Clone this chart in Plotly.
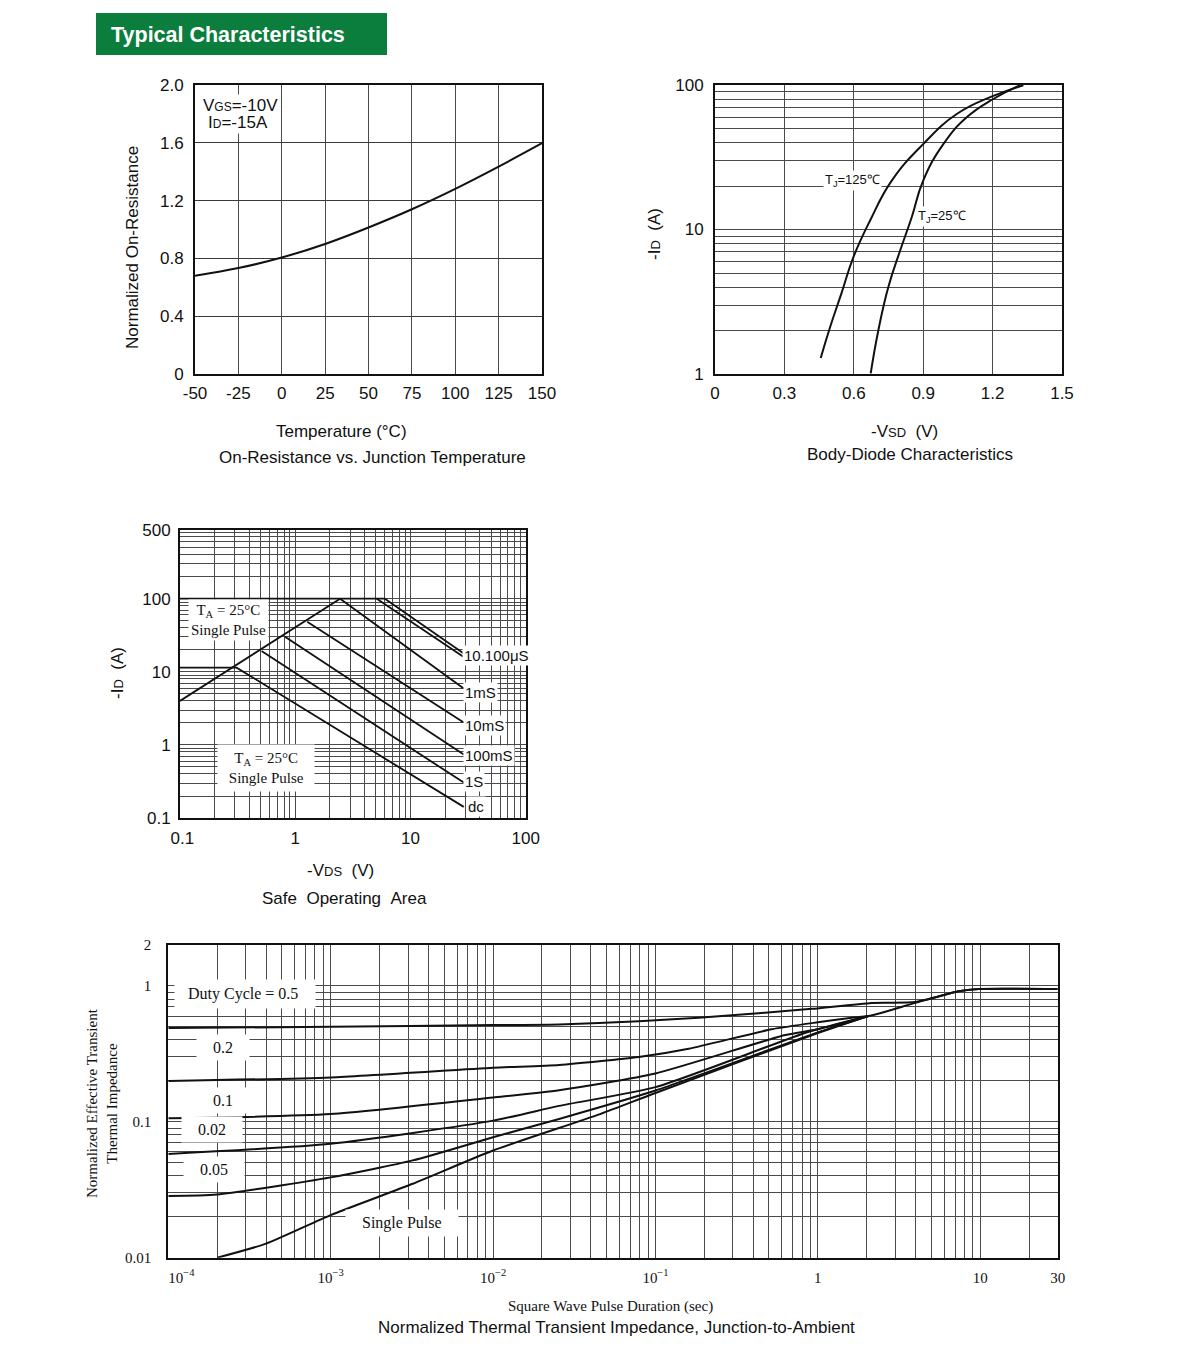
import plotly.graph_objects as go

W, H = 1200, 1353
SANS = "Liberation Sans, Arial, sans-serif"
SERIF = "Liberation Serif, Times New Roman, serif"
INK = "#111111"
GRID = "#4a4a4a"

# ---------------- data ----------------
# On-resistance vs junction temperature
temp_c = [-50, -25, 0, 25, 50, 75, 100, 125, 150]
rds_norm = [0.68, 0.733, 0.806, 0.90, 1.014, 1.14, 1.281, 1.435, 1.597]

# Body diode, TJ = 125 C and TJ = 25 C
vsd_125 = [0.457, 0.497, 0.548, 0.598, 0.670, 0.764, 0.900, 1.045, 1.203, 1.333]
id_125 = [1.29, 2.1, 3.67, 6.42, 11.5, 21.8, 39, 63, 84, 99.5]
vsd_25 = [0.673, 0.706, 0.749, 0.800, 0.850, 0.900, 0.987, 1.088, 1.203, 1.318]
id_25 = [1.01, 2.0, 3.98, 7.13, 12.1, 21.8, 39, 59.7, 80, 99.5]

# Safe operating area
soa_rds_v = [0.1, 2.45]
soa_rds_i = [4.0, 100]
soa_flat_v = [0.1, 6.0]
soa_flat_i = [100, 100]
soa_10us_v = [6.0, 29]
soa_10us_i = [100, 17.8]
soa_100us_v = [5.1, 29]
soa_100us_i = [100, 16.0]
soa_1ms_v = [2.45, 29]
soa_1ms_i = [100, 5.9]
soa_10ms_v = [1.27, 29]
soa_10ms_i = [48.4, 2.02]
soa_100ms_v = [0.815, 29]
soa_100ms_i = [30.1, 0.74]
soa_1s_v = [0.51, 29]
soa_1s_i = [19.2, 0.305]
soa_dc_v = [0.1, 0.31, 29]
soa_dc_i = [11.4, 11.4, 0.142]

# Normalized thermal transient impedance
zth_d05_t = [1e-4, 1e-3, 1e-2, 0.0255, 0.079, 0.185, 0.43, 0.92, 2.15, 3.98, 7.35, 9.75, 30]
zth_d05_z = [0.49, 0.50, 0.515, 0.52, 0.55, 0.583, 0.63, 0.678, 0.75, 0.76, 0.914, 0.95, 0.95]
zth_d02_t = [1e-4, 1e-3, 1e-2, 0.0255, 0.079, 0.16, 0.52, 1.0, 1.62, 2.05, 3.98, 7.35, 9.75, 30]
zth_d02_z = [0.20, 0.212, 0.25, 0.262, 0.30, 0.345, 0.48, 0.54, 0.583, 0.6, 0.75, 0.914, 0.95, 0.95]
zth_d01_t = [1e-4, 1e-3, 1e-2, 0.0255, 0.1, 0.63, 1, 2.05]
zth_d01_z = [0.106, 0.114, 0.151, 0.171, 0.227, 0.435, 0.48, 0.6]
zth_c4_t = [1e-4, 1e-3, 1e-2, 0.0255, 0.1, 0.88, 2.05]
zth_c4_z = [0.058, 0.069, 0.102, 0.131, 0.18, 0.46, 0.6]
zth_c5_t = [1e-4, 2e-4, 1e-3, 3.2e-3, 1e-2, 0.0255, 0.1, 1, 2.05]
zth_c5_z = [0.0285, 0.0292, 0.039, 0.052, 0.077, 0.105, 0.17, 0.455, 0.6]
zth_sp_t = [2e-4, 4e-4, 1e-3, 3.2e-3, 1e-2, 0.0456, 0.1, 1, 2.05]
zth_sp_z = [0.01, 0.0127, 0.0206, 0.035, 0.0615, 0.114, 0.163, 0.45, 0.6]

# tick labels
temp_ticks = [-50, -25, 0, 25, 50, 75, 100, 125, 150]
temp_ticktext = ["-50", "-25", "0", "25", "50", "75", "100", "125", "150"]
ron_ticks = [0, 0.4, 0.8, 1.2, 1.6, 2.0]
ron_ticktext = ["0", "0.4", "0.8", "1.2", "1.6", "2.0"]
vsd_ticks = [0, 0.3, 0.6, 0.9, 1.2, 1.5]
vsd_ticktext = ["0", "0.3", "0.6", "0.9", "1.2", "1.5"]


def px(x):
    return x / W


def py(y):
    return 1 - y / H


def minor_vals(lo_exp, hi_exp, top=None):
    vals = []
    for e in range(lo_exp, hi_exp):
        for m in range(2, 10):
            v = m * 10 ** e
            if top is None or v <= top:
                vals.append(v)
    return vals


def frame(**kw):
    base = dict(
        showline=True, mirror=True, linecolor=INK, linewidth=2,
        showgrid=True, gridcolor=GRID, gridwidth=1, zeroline=False,
        ticks="", tickfont=dict(family=SANS, size=17, color=INK),
        fixedrange=True, automargin=False,
    )
    base.update(kw)
    return base


def log_minor(vals):
    return dict(tickvals=vals, showgrid=True, gridcolor=GRID, gridwidth=1, ticks="")


fig = go.Figure()


def curve(x, y, ax, shape="spline", width=2, smoothing=0.8):
    fig.add_trace(go.Scatter(
        x=x, y=y, xaxis="x" + ax, yaxis="y" + ax, mode="lines",
        line=dict(color=INK, width=width, shape=shape, smoothing=smoothing),
        hoverinfo="skip", showlegend=False,
    ))


curve(temp_c, rds_norm, "", smoothing=1.0)
curve(vsd_125, id_125, "2", smoothing=1.3)
curve(vsd_25, id_25, "2", smoothing=1.3)
for xv, yv in [(soa_rds_v, soa_rds_i), (soa_flat_v, soa_flat_i), (soa_10us_v, soa_10us_i),
               (soa_100us_v, soa_100us_i), (soa_1ms_v, soa_1ms_i), (soa_10ms_v, soa_10ms_i),
               (soa_100ms_v, soa_100ms_i), (soa_1s_v, soa_1s_i), (soa_dc_v, soa_dc_i)]:
    curve(xv, yv, "3", shape="linear", width=1.8)
for xv, yv in [(zth_d05_t, zth_d05_z), (zth_d02_t, zth_d02_z), (zth_d01_t, zth_d01_z),
               (zth_c4_t, zth_c4_z), (zth_c5_t, zth_c5_z), (zth_sp_t, zth_sp_z)]:
    curve(xv, yv, "4", smoothing=0.6)


def label(x, y, text, size=17, family=SANS, xanchor="center", angle=0, bg=None, pad=1):
    d = dict(x=px(x), y=py(y), xref="paper", yref="paper", text=text, showarrow=False,
             font=dict(family=family, size=size, color=INK), xanchor=xanchor,
             yanchor="middle", textangle=angle)
    if bg:
        d.update(bgcolor=bg, borderpad=pad)
    return d


NB = "\u00a0"
sub = lambda s, size=12: f"<span style='font-size:{size}px'>{s}</span>"

annotations = [
    # header
    dict(x=px(109), y=py(35), xref="paper", yref="paper", text="<b>Typical Characteristics</b>",
         showarrow=False, xanchor="left", yanchor="middle",
         font=dict(family=SANS, size=21.5, color="white")),
    # chart 1
    label(132, 248, "Normalized On-Resistance", angle=-90),
    label(341, 431, "Temperature (°C)"),
    label(372, 457, "On-Resistance vs. Junction Temperature"),
    label(201, 105, "V" + sub("GS") + "=-10V", xanchor="left", bg="white"),
    label(206, 122, "I" + sub("D") + "=-15A", xanchor="left", bg="white"),
    # chart 2
    label(654, 234, "-I" + sub("D", 13) + NB + NB + "(A)", angle=-90),
    label(904, 431, "-V" + sub("SD", 13) + NB + NB + "(V)"),
    label(910, 454, "Body-Diode Characteristics"),
    label(852, 180, "T<sub>J</sub>=125℃", size=13, bg="white"),
    label(942, 216, "T<sub>J</sub>=25℃", size=13, bg="white"),
    # chart 3
    label(117, 673, "-I" + sub("D", 13) + NB + NB + "(A)", angle=-90),
    label(340, 870, "-V" + sub("DS", 13) + NB + NB + "(V)"),
    label(344, 898, "Safe" + NB + NB + "Operating" + NB + NB + "Area"),
    label(228, 620, "T<sub>A</sub> = 25°C<br>Single Pulse", size=15, family=SERIF, bg="white", pad=2),
    label(266, 768, NB * 3 + "T<sub>A</sub> = 25°C" + NB * 3 + "<br>Single Pulse", size=15,
          family=SERIF, bg="white", pad=5),
    label(462, 655, "10.100μS", size=15, xanchor="left", bg="white"),
    label(463, 692, "1mS", size=15, xanchor="left", bg="white"),
    label(463, 725, "10mS", size=15, xanchor="left", bg="white"),
    label(463, 755, "100mS", size=15, xanchor="left", bg="white"),
    label(463, 781, "1S", size=15, xanchor="left", bg="white"),
    label(466, 806, "dc", size=15, xanchor="left", bg="white"),
    # chart 4
    label(102, 1103, "Normalized Effective Transient<br>Thermal Impedance", size=15,
          family=SERIF, angle=-90),
    label(610, 1306, "Square Wave Pulse Duration (sec)", size=15, family=SERIF),
    label(616, 1327, "Normalized Thermal Transient Impedance, Junction-to-Ambient", size=17),
    label(245, 994, NB * 2 + "Duty Cycle = 0.5" + NB * 3, size=16, family=SERIF, bg="white", pad=5),
    label(223, 1047, NB * 3 + "0.2" + NB * 3, size=16, family=SERIF, bg="white", pad=4),
    label(223, 1100, NB * 3 + "0.1" + NB * 3, size=16, family=SERIF, bg="white", pad=4),
    label(212, 1129, NB * 3 + "0.02" + NB * 3, size=16, family=SERIF, bg="white", pad=4),
    label(214, 1169, NB * 3 + "0.05" + NB * 3, size=16, family=SERIF, bg="white", pad=4),
    label(402, 1223, NB * 3 + "Single Pulse" + NB * 3, size=16, family=SERIF, bg="white", pad=4),
]

serif_ticks = dict(family=SERIF, size=15, color=INK)

fig.update_layout(
    width=W, height=H, margin=dict(l=0, r=0, t=0, b=0, autoexpand=False),
    paper_bgcolor="white", plot_bgcolor="white", showlegend=False,
    annotations=annotations,
    shapes=[dict(type="rect", xref="paper", yref="paper", x0=px(96), x1=px(387),
                 y0=py(55), y1=py(13), fillcolor="#0b7d3c", line=dict(width=0))],
    # chart 1
    xaxis=frame(domain=[px(195), px(542)], anchor="y", range=[-50, 150],
                tickvals=temp_ticks, ticktext=temp_ticktext, ticklabelstandoff=3),
    yaxis=frame(domain=[py(374), py(85)], anchor="x", range=[0, 2.0],
                tickvals=ron_ticks, ticktext=ron_ticktext, ticklabelstandoff=6,
                gridcolor="#3a3a3a", gridwidth=1.3),
    # chart 2
    xaxis2=frame(domain=[px(715), px(1062)], anchor="y2", range=[0, 1.5],
                 tickvals=vsd_ticks, ticktext=vsd_ticktext, ticklabelstandoff=3),
    yaxis2=frame(domain=[py(374), py(85)], anchor="x2", type="log", range=[0, 2],
                 tickvals=[1, 10, 100], ticktext=["1", "10", "100"], ticklabelstandoff=6,
                 minor=log_minor(minor_vals(0, 2))),
    # chart 3
    xaxis3=frame(domain=[px(180), px(525.7)], anchor="y3", type="log", range=[-1, 2],
                 tickvals=[0.1, 1, 10, 100], ticktext=[NB + "0.1", "1", "10", "100"],
                 ticklabelstandoff=4, minor=log_minor(minor_vals(-1, 2))),
    yaxis3=frame(domain=[py(818), py(530)], anchor="x3", type="log", range=[-1, 2.94],
                 tickvals=[0.1, 1, 10, 100, 10 ** 2.94],
                 ticktext=["0.1", "1", "10", "100", "500"], ticklabelstandoff=4,
                 minor=log_minor(minor_vals(-1, 3, top=10 ** 2.94))),
    # chart 4
    xaxis4=frame(domain=[px(168.3), px(1057.7)], anchor="y4", type="log",
                 range=[-4, 1.4771],
                 tickvals=[1e-4, 1e-3, 1e-2, 1e-1, 1, 10, 30],
                 ticktext=[NB * 7 + "10<sup>−4</sup>", "10<sup>−3</sup>", "10<sup>−2</sup>",
                           "10<sup>−1</sup>", "1", "10", "30"],
                 tickfont=serif_ticks, ticklabelstandoff=5,
                 minor=log_minor(minor_vals(-4, 2, top=30))),
    yaxis4=frame(domain=[py(1257.7), py(945)], anchor="x4", type="log",
                 range=[-2, 0.30103],
                 tickvals=[0.01, 0.1, 1, 2], ticktext=["0.01", "0.1", "1", "2"],
                 tickfont=serif_ticks, ticklabelstandoff=12,
                 minor=log_minor(minor_vals(-2, 0))),
)

page_css = (
    "document.documentElement.style.margin='0';"
    "document.documentElement.style.overflow='hidden';"
    "document.body.style.margin='0';"
    "document.body.style.overflow='hidden';"
)
fig.write_html("out.html", config={"displayModeBar": False, "staticPlot": True},
               post_script=page_css)
